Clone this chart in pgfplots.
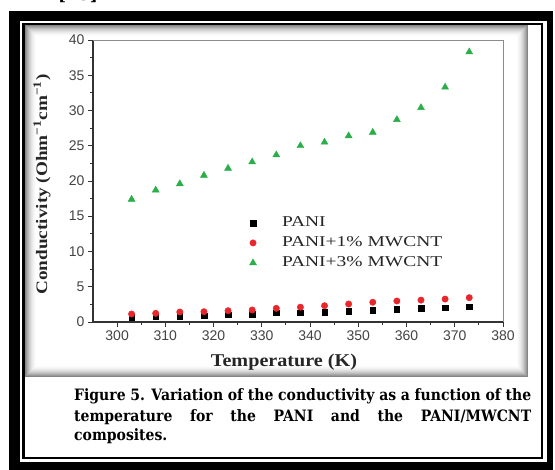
\documentclass[border=0pt]{standalone}
\usepackage{fontspec}
\setmainfont{Liberation Serif}
\newfontfamily\arial{Liberation Sans}
\newfontfamily\capfont{DejaVu Serif}
\usepackage{pgfplots}
\pgfplotsset{compat=1.18}
\definecolor{panired}{HTML}{E8262B}
\definecolor{panigreen}{HTML}{2AAE48}
\definecolor{ticktext}{HTML}{444444}
\newcommand\legtext[1]{\hspace*{24pt}\scalebox{1.3}[1]{#1}}
\newcommand\capline{\capfont\bfseries\fontsize{14}{14}\selectfont}

\begin{document}
\begin{tikzpicture}
\useasboundingbox (0,0) rectangle (555pt,470pt);
% double black frame round the figure
\fill[black] (9pt,0pt) rectangle (552.7pt,459.3pt);
\fill[white] (20pt,8.3pt) rectangle (546.7pt,449pt);
\fill[black] (22pt,10.7pt) rectangle (543.3pt,447.3pt);
\fill[white] (25pt,13.3pt) rectangle (541pt,445pt);
% soft grey edge of the pasted plot
\foreach \i in {0,...,12} {
  \pgfmathsetmacro\c{48*(1-\i/12)^2}
  \fill[black!\c] ({(25+\i)*1pt},{(93+\i)*1pt}) rectangle ({(528-\i)*1pt},{(445-\i)*1pt});
}
\node[anchor=base west, inner sep=0] at (58pt,469.5pt)
  {\capfont\bfseries\fontsize{17}{17}\selectfont [15]};

\begin{axis}[
  at={(93pt,148pt)}, anchor=south west,
  scale only axis, width=410pt, height=282pt,
  xmin=295, xmax=380, ymin=0, ymax=40,
  xtick={300,310,...,380}, ytick={0,5,...,40},
  minor x tick num=1, minor y tick num=1,
  axis x line*=bottom, axis y line*=left,
  axis line style={draw=black!80, line width=1.1pt},
  tick style={black!80, line width=0.9pt},
  tick align=outside, major tick length=5pt, minor tick length=3pt,
  ticklabel style={font=\arial\fontsize{14}{14}\selectfont, text=ticktext},
  /pgf/number format/assume math mode=true,
  clip=false,
  legend cell align=left,
  legend style={draw=none, fill=none, at={(axis cs:326.8,15.5)}, anchor=north west,
    font=\fontsize{15}{15}\selectfont, text=black!85, row sep=4pt,
    nodes={inner sep=1.5pt, text height=10pt, text depth=3pt}},
]
\draw[black!45, line width=0.9pt] (rel axis cs:0,1) -- (rel axis cs:1,1) -- (rel axis cs:1,0);
\addplot[only marks, mark=square*, mark size=2.8pt, black] coordinates {
  (303,0.66) (308,0.75) (313,0.85) (318,0.90) (323,1.04) (328,1.13) (333,1.32) (338,1.34)
  (343,1.40) (348,1.56) (353,1.70) (358,1.84) (363,1.94) (368,2.03) (373,2.17)};
\addplot[only marks, mark=*, mark size=3.2pt, panired] coordinates {
  (303,1.13) (308,1.23) (313,1.42) (318,1.46) (323,1.60) (328,1.70) (333,1.94) (338,2.10)
  (343,2.31) (348,2.55) (353,2.80) (358,2.98) (363,3.10) (368,3.25) (373,3.45)};
\addplot[only marks, mark=triangle*, mark size=4pt, panigreen] coordinates {
  (303,17.4) (308,18.7) (313,19.6) (318,20.8) (323,21.8) (328,22.7) (333,23.7) (338,25.0)
  (343,25.5) (348,26.4) (353,26.9) (358,28.7) (363,30.4) (368,33.3) (373,38.3)};
\addlegendentry{\legtext{PANI}}
\addlegendentry{\legtext{PANI+1\% MWCNT}}
\addlegendentry{\legtext{PANI+3\% MWCNT}}
\end{axis}

% axis titles
\node[anchor=base, inner sep=0, text=black!85] at (284pt,103pt)
  {\bfseries\fontsize{18}{18}\selectfont\scalebox{1.12}[1]{Temperature (K)}};
\node[rotate=90, inner sep=0, text=black!85] at (42pt,285.5pt)
  {\bfseries\fontsize{16}{16}\selectfont\scalebox{1.2}[1]{Conductivity (Ohm\textsuperscript{−1}cm\textsuperscript{−1})}};

% caption
\begin{scope}[every node/.style={anchor=base west, inner sep=0}]
\node at (74pt,69pt) {\capline\scalebox{1}[1.12]{%
  \makebox[457pt][s]{Figure 5. Variation of the conductivity as a function of the}}};
\node at (74pt,48.5pt) {\capline\scalebox{1}[1.12]{%
  \makebox[457pt][s]{temperature for the PANI and the PANI/MWCNT}}};
\node at (74pt,29pt) {\capline\scalebox{1}[1.12]{composites.}};
\end{scope}
\end{tikzpicture}
\end{document}
